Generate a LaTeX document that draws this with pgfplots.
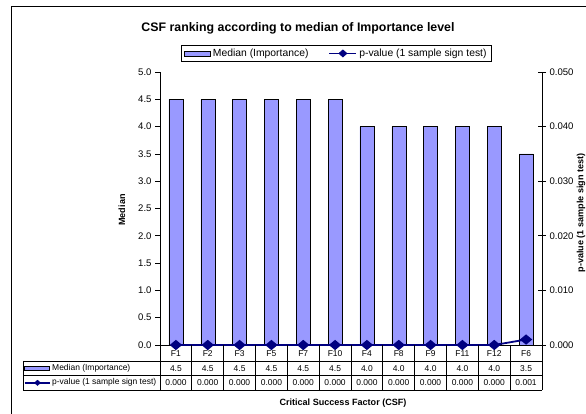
\documentclass[border=0pt]{standalone}
\usepackage{fontspec}
\setmainfont{Liberation Sans}
\usepackage{pgfplots}
\pgfplotsset{compat=1.18}
\usepackage{pgfplotstable}
\definecolor{barblue}{HTML}{9999FF}
\definecolor{navy}{HTML}{000080}
\pgfplotstableread{
x cat med p
0 F1 4.5 0.000
1 F2 4.5 0.000
2 F3 4.5 0.000
3 F5 4.5 0.000
4 F7 4.5 0.000
5 F10 4.5 0.000
6 F4 4.0 0.000
7 F8 4.0 0.000
8 F9 4.0 0.000
9 F11 4.0 0.000
10 F12 4.0 0.000
11 F6 3.5 0.001
}\datatable
\newcommand{\tickfont}{\fontsize{9.6}{11}\selectfont}
\newcommand{\tabfont}{\fontsize{8.5}{9.5}\selectfont}
\pgfplotsset{
  barkey/.style={legend image code/.code={\draw[fill=barblue, draw=black, line width=0.5bp] (0bp,-2.5bp) rectangle (26bp,2.5bp);}},
  linekey/.style={legend image code/.code={\draw[navy, line width=1.8bp] (0bp,0bp) -- (27bp,0bp);
     \fill[navy] (13.5bp,3.5bp) -- (17.5bp,0bp) -- (13.5bp,-3.5bp) -- (9.5bp,0bp) -- cycle;}},
}
\begin{document}
\begin{tikzpicture}
\useasboundingbox (0,0) rectangle (586bp,414bp);
\begin{axis}[
  at={(160bp,69bp)}, anchor=south west,
  width=382bp, height=273bp, scale only axis,
  xmin=-0.5, xmax=11.5, ymin=0, ymax=5,
  axis x line*=bottom, axis y line*=left,
  axis line style={black, line width=0.7bp},
  xtick=\empty,
  ytick={0,0.5,1,1.5,2,2.5,3,3.5,4,4.5,5},
  yticklabel style={font=\tickfont, /pgf/number format/.cd, fixed, fixed zerofill, precision=1},
  /pgf/number format/assume math mode=true,
  tick style={black, line width=0.7bp},
  major tick length=5bp, tick align=outside,
  ybar, bar width=14bp,
  clip=false,
  legend columns=2,
  legend style={at={(0.462,1.068)}, anchor=center, draw=black, line width=0.7bp,
    font=\fontsize{10.4}{11.5}\selectfont, inner xsep=3bp, inner ysep=1.5bp,
    /tikz/every even column/.append style={column sep=18bp}},
]
\addplot[fill=barblue, draw=black, line width=0.5bp, barkey]
  table[x=x, y=med] {\datatable};
\addlegendentry{Median (Importance)}
\addlegendimage{linekey}
\addlegendentry{p-value (1 sample sign test)}
\end{axis}
\begin{axis}[
  at={(160bp,69bp)}, anchor=south west,
  width=382bp, height=273bp, scale only axis,
  xmin=-0.5, xmax=11.5, ymin=0, ymax=0.05,
  axis x line=none, axis y line*=right,
  axis line style={black, line width=0.7bp},
  xtick=\empty,
  ytick={0,0.01,0.02,0.03,0.04,0.05},
  yticklabel style={font=\tickfont, /pgf/number format/.cd, fixed, fixed zerofill, precision=3},
  /pgf/number format/assume math mode=true,
  scaled y ticks=false,
  tick style={black, line width=0.7bp},
  major tick length=8bp, tick align=center,
  clip=false,
]
\addplot[navy, line width=1.8bp, mark=diamond*, mark size=4bp, mark options={xscale=1.6}]
  table[x=x, y=p] {\datatable};
\end{axis}
\begin{scope}[x=1bp, y=-1bp, shift={(0bp,414bp)}]
  % outer frame (partially visible)
  \draw[black, line width=0.9bp] (11.5,414) -- (11.5,6) -- (586,6);
  % title
  \node[font=\fontsize{12.4}{14}\selectfont\bfseries] at (298,28) {CSF ranking according to median of Importance level};
  % axis titles
  \node[font=\fontsize{9.1}{10}\selectfont\bfseries, rotate=90] at (122,210) {Median};
  \node[font=\fontsize{9.1}{10}\selectfont\bfseries, rotate=90] at (581,213) {p-value (1 sample sign test)};
  \node[font=\fontsize{9.1}{10}\selectfont\bfseries] at (343,403) {Critical Success Factor (CSF)};
  % data table grid
  \draw[black, line width=0.7bp] (23,361) -- (542,361) (23,375.5) -- (542,375.5) (23,390) -- (542,390);
  \draw[black, line width=0.7bp] (23,361) -- (23,390);
  \foreach \k in {0,...,12} {\draw[black, line width=0.7bp] ({160+31.833*\k},345) -- ({160+31.833*\k},390);}
  % row headers
  \draw[fill=barblue, draw=black, line width=0.5bp] (24.5,365.8) rectangle (49,370.5);
  \node[font=\tabfont, anchor=west, inner sep=0bp] at (52,368.3) {Median (Importance)};
  \draw[navy, line width=1.7bp] (24.5,382.8) -- (50,382.8);
  \fill[navy] (37.5,379.8) -- (41,382.8) -- (37.5,385.8) -- (34,382.8) -- cycle;
  \node[font=\tabfont, anchor=west, inner sep=0bp] at (52,382.8) {p-value (1 sample sign test)};
  % table entries
  \foreach \c/\m/\p [count=\i from 0] in {F1/4.5/0.000,F2/4.5/0.000,F3/4.5/0.000,F5/4.5/0.000,F7/4.5/0.000,F10/4.5/0.000,F4/4.0/0.000,F8/4.0/0.000,F9/4.0/0.000,F11/4.0/0.000,F12/4.0/0.000,F6/3.5/0.001} {
    \node[font=\tabfont, inner sep=0pt] at ({160+31.833*(\i+0.5)},353.5) {\c};
    \node[font=\tabfont, inner sep=0pt] at ({160+31.833*(\i+0.5)},368.3) {\m};
    \node[font=\tabfont, inner sep=0pt] at ({160+31.833*(\i+0.5)},382.8) {\p};
  }
\end{scope}
\end{tikzpicture}
\end{document}
